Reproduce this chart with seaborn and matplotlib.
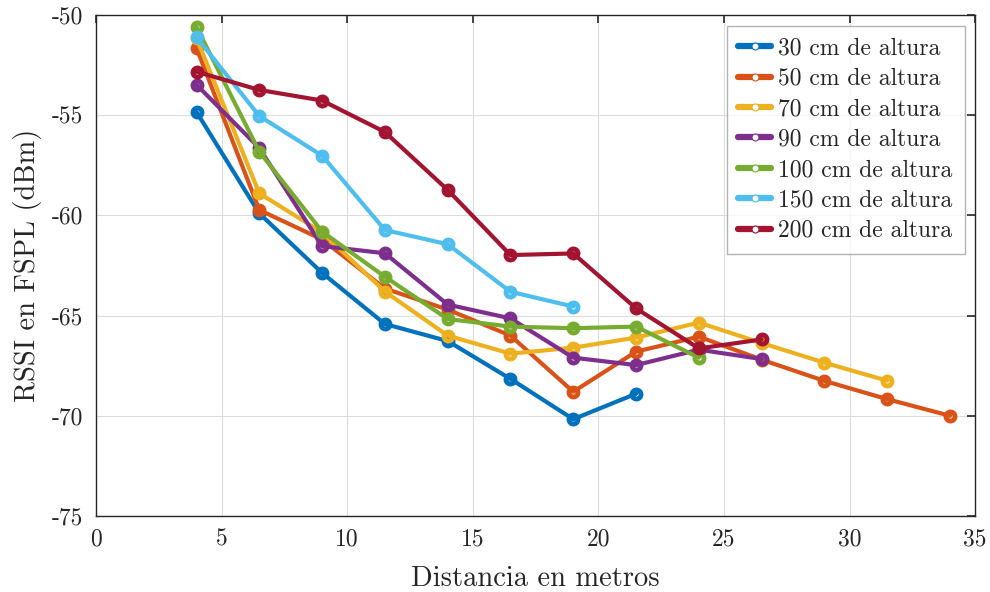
import matplotlib
matplotlib.use("Agg")
import matplotlib.pyplot as plt
from matplotlib.lines import Line2D
import seaborn as sns
import pandas as pd

# Measured RSSI (dBm) against distance (m) for each antenna height
distances = [4, 6.5, 9, 11.5, 14, 16.5, 19, 21.5, 24, 26.5, 29, 31.5, 34]

rssi_30 = [-54.84, -59.9, -62.87, -65.42, -66.27, -68.16, -70.17, -68.9]
rssi_50 = [-51.65, -59.73, -61.2, -63.65, -64.7, -66.0, -68.8, -66.8, -66.05, -67.2, -68.26, -69.17, -70.0]
rssi_70 = [-51.15, -58.9, -60.85, -63.8, -66.0, -66.9, -66.6, -66.1, -65.35, -66.37, -67.35, -68.25]
rssi_90 = [-53.48, -56.64, -61.53, -61.89, -64.45, -65.14, -67.1, -67.47, -66.7, -67.17]
rssi_100 = [-50.6, -56.82, -60.81, -63.06, -65.17, -65.55, -65.63, -65.55, -67.1]
rssi_150 = [-51.11, -55.04, -57.02, -60.73, -61.44, -63.81, -64.55]
rssi_200 = [-52.83, -53.74, -54.27, -55.84, -58.73, -61.98, -61.9, -64.64, -66.64, -66.19]

series_labels = ["30 cm de altura", "50 cm de altura", "70 cm de altura",
                 "90 cm de altura", "100 cm de altura", "150 cm de altura",
                 "200 cm de altura"]
series_values = [rssi_30, rssi_50, rssi_70, rssi_90, rssi_100, rssi_150, rssi_200]
colors = ["#0072BD", "#D95319", "#EDB120", "#7E2F8E", "#77AC30", "#4DBEEE", "#A2142F"]

x_ticks = [0, 5, 10, 15, 20, 25, 30, 35]
y_ticks = [-75, -70, -65, -60, -55, -50]
y_tick_labels = ["-75", "-70", "-65", "-60", "-55", "-50"]

frames = []
for label, vals in zip(series_labels, series_values):
    frames.append(pd.DataFrame({"Distancia": distances[:len(vals)],
                                "RSSI": vals, "Altura": label}))
df = pd.concat(frames, ignore_index=True)

sns.set_style("white")
plt.rcParams["font.family"] = ["cmr10", "DejaVu Serif"]
plt.rcParams["mathtext.fontset"] = "cm"
plt.rcParams["axes.unicode_minus"] = False
plt.rcParams["axes.formatter.use_mathtext"] = True

fig = plt.figure(figsize=(9.9, 5.92), dpi=100)
ax = fig.add_axes([0.097, 0.1284, 0.888, 0.8463])

for label, color in zip(series_labels, colors):
    sub = df[df["Altura"] == label]
    sns.lineplot(data=sub, x="Distancia", y="RSSI", ax=ax, color=color,
                 linewidth=3, marker="o", markersize=6.5, markerfacecolor="none",
                 markeredgecolor=color, markeredgewidth=3.5, sort=False,
                 legend=False, zorder=3)

ax.set_xlim(0, 35)
ax.set_ylim(-75, -50)
ax.set_xticks(x_ticks)
ax.set_xticklabels([str(t) for t in x_ticks])
ax.set_yticks(y_ticks)
ax.set_yticklabels(y_tick_labels)
ax.grid(True, color="#dcdcdc", linewidth=0.8, zorder=0)
ax.set_axisbelow(True)
ax.tick_params(direction="in", length=6, width=1.2, color="#262626",
               labelsize=17, top=True, right=True, labelcolor="#262626", pad=9)
for side in ax.spines.values():
    side.set_color("#262626")
    side.set_linewidth(1.0)

ax.set_xlabel("Distancia en metros", fontsize=20.5, color="#262626", labelpad=11)
ax.set_ylabel("RSSI en FSPL (dBm)", fontsize=20.5, color="#262626", labelpad=7)

handles = [Line2D([0], [0], color=c, lw=4.5, marker="o", markersize=5,
                  markerfacecolor="white", markeredgecolor=c, markeredgewidth=0.8)
           for c in colors]
leg = ax.legend(handles, series_labels, loc="upper right", fontsize=17,
                frameon=True, fancybox=False, edgecolor="#a0a0a0",
                handlelength=1.4, handletextpad=0.3, labelspacing=0.35,
                borderpad=0.5, borderaxespad=0.45)
leg.get_frame().set_linewidth(1.0)

fig.savefig("out.png", dpi=100)
